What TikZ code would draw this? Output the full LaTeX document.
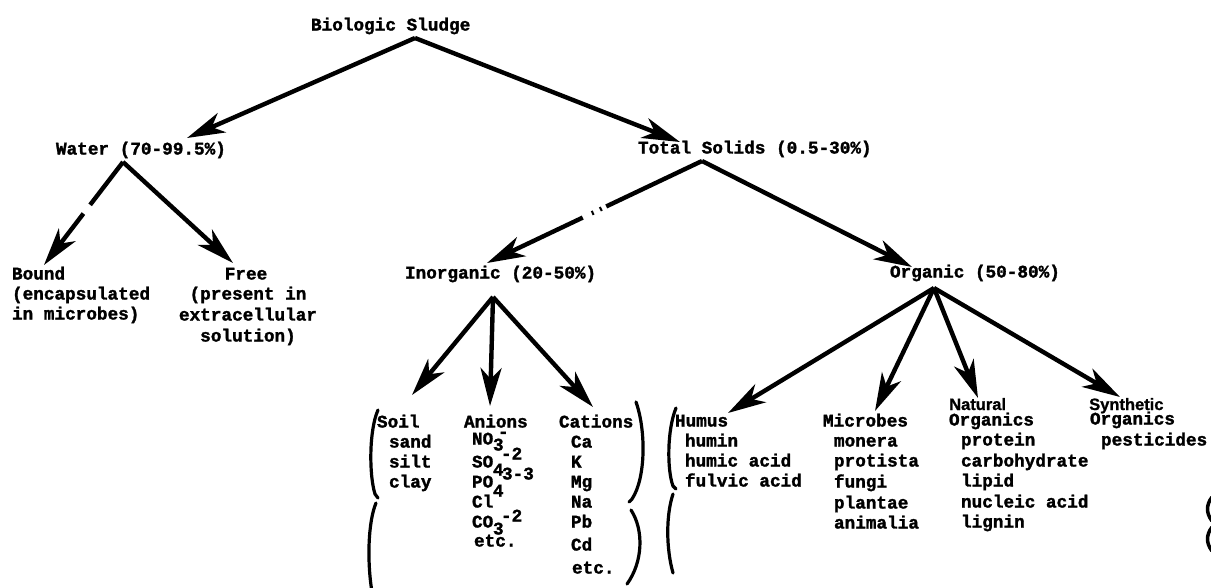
\documentclass[tikz,border=0pt]{standalone}
\usepackage{fontspec}
\setmainfont{Liberation Mono}[BoldFeatures={FakeBold=1.6}]
\newfontfamily\capsans{Liberation Sans}[BoldFeatures={FakeBold=1}]
\usetikzlibrary{arrows.meta}
\begin{document}
\begin{tikzpicture}[x=1pt,y=-1pt,
  lbl/.style={font=\fontsize{17.7}{20}\selectfont\bfseries, inner sep=0pt, outer sep=0pt,
              text height=12pt, text depth=3pt, anchor=west},
  caplbl/.style={font=\capsans\fontsize{16.5}{17}\selectfont\bfseries, inner sep=0pt,
              text height=12pt, text depth=2pt, anchor=west},
  link/.style={line width=4.4pt, -{Stealth[length=38pt,width=21pt,inset=11pt]}},
  brace/.style={line width=3.2pt, line cap=round}]
\useasboundingbox (0,0) rectangle (1211,587);

% ---- headings ----
\node[lbl] (sludge) at (311,26) {Biologic Sludge};
\node[lbl] (water) at (56,150) {Water (70-99.5\%)};
\node[lbl] (solids) at (638,149) {Total Solids (0.5-30\%)};
\node[lbl] (inorg) at (405,274) {Inorganic (20-50\%)};
\node[lbl] (org) at (890,273) {Organic (50-80\%)};

% ---- water ----
\node[lbl] (bound) at (12,275) {Bound};
\node[lbl] (bound2) at (12,295) {(encapsulated};
\node[lbl] (bound3) at (12,315) {in microbes)};
\node[lbl,anchor=center] (free) at (246,275) {Free};
\node[lbl,anchor=center] (free2) at (248,295) {(present in};
\node[lbl,anchor=center] (free3) at (248,316) {extracellular};
\node[lbl,anchor=center] (free4) at (248,337) {solution)};

% ---- inorganic ----
\node[lbl] (soil) at (377,423) {Soil};
\node[lbl] (sand) at (389,443) {sand};
\node[lbl] (silt) at (389,463) {silt};
\node[lbl] (clay) at (389,483) {clay};

\node[lbl] (anions) at (464,423) {Anions};
\node[lbl] (no) at (472,440) {NO};
\node[lbl] (nosub) at (493,446) {3};
\node[lbl] (nosup) at (498,433) {-};
\node[lbl] (socharge) at (501,455) {-2};
\node[lbl] (so) at (472,463) {SO};
\node[lbl] (sosub) at (493,471) {4};
\node[lbl] (pocharge) at (502,475) {3-3};
\node[lbl] (po) at (472,483) {PO};
\node[lbl] (posub) at (493,492) {4};
\node[lbl] (cl) at (472,503) {Cl};
\node[lbl] (co) at (472,523) {CO};
\node[lbl] (cosub) at (493,530) {3};
\node[lbl] (cocharge) at (501,517) {-2};
\node[lbl] (anetc) at (474,542) {etc.};

\node[lbl] (cations) at (559,423) {Cations};
\node[lbl] (ca) at (571,443) {Ca};
\node[lbl] (k) at (571,463) {K};
\node[lbl] (mg) at (571,483) {Mg};
\node[lbl] (na) at (571,503) {Na};
\node[lbl] (pb) at (571,523) {Pb};
\node[lbl] (cd) at (571,546) {Cd};
\node[lbl] (catetc) at (572,569) {etc.};

% ---- organic ----
\node[lbl] (humus) at (675,422) {Humus};
\node[lbl] (humin) at (685,442) {humin};
\node[lbl] (humic) at (685,462) {humic acid};
\node[lbl] (fulvic) at (685,482) {fulvic acid};

\node[lbl] (microbes) at (823,422) {Microbes};
\node[lbl] (monera) at (834,442) {monera};
\node[lbl] (protista) at (834,462) {protista};
\node[lbl] (fungi) at (834,483) {fungi};
\node[lbl] (plantae) at (834,504) {plantae};
\node[lbl] (animalia) at (834,524) {animalia};

\node[caplbl] (natural) at (949,405) {Natural};
\node[lbl] (natorg) at (949,421) {Organics};
\node[lbl] (protein) at (961,441) {protein};
\node[lbl] (carb) at (961,462) {carbohydrate};
\node[lbl] (lipid) at (961,482) {lipid};
\node[lbl] (nucleic) at (961,503) {nucleic acid};
\node[lbl] (lignin) at (961,523) {lignin};

\node[caplbl] (synthetic) at (1089,405) {Synthetic};
\node[lbl] (synorg) at (1090,420) {Organics};
\node[lbl] (pesticides) at (1101,441) {pesticides};

% ---- fork points and arrow ends ----
\coordinate (sludgeFork) at (415,38);
\coordinate (waterTip) at (187,138);
\coordinate (solidsTip) at (680,142);
\coordinate (waterFork) at (123,162);
\coordinate (boundTip) at (44,265);
\coordinate (freeTip) at (233,263);
\coordinate (solidsFork) at (702,161);
\coordinate (inorgTip) at (487,263);
\coordinate (orgTip) at (912,267);
\coordinate (inorgFork) at (493,297);
\coordinate (soilTip) at (412,395);
\coordinate (anionTip) at (490,406);
\coordinate (cationTip) at (593,407);
\coordinate (orgFork) at (934,288);
\coordinate (humusTip) at (728,413);
\coordinate (microbesTip) at (875,411);
\coordinate (naturalTip) at (978,398);
\coordinate (syntheticTip) at (1120,397);

% ---- connectors ----
\draw[link] (sludgeFork) -- (waterTip);
\draw[link] (sludgeFork) -- (solidsTip);
\draw[link, dash pattern=on 54pt off 11pt on 400pt] (waterFork) -- (boundTip);
\draw[link] (waterFork) -- (freeTip);
\draw[link, dash pattern=on 106pt off 5pt on 2pt off 7pt on 2pt off 10pt on 400pt] (solidsFork) -- (inorgTip);
\draw[link] (solidsFork) -- (orgTip);
\draw[link] (inorgFork) -- (soilTip);
\draw[link] (inorgFork) -- (anionTip);
\draw[link] (inorgFork) -- (cationTip);
\draw[link] (orgFork) -- (humusTip);
\draw[link] (orgFork) -- (microbesTip);
\draw[link] (orgFork) -- (naturalTip);
\draw[link] (orgFork) -- (syntheticTip);

% ---- hand-drawn braces ----
\draw[brace] (378,410) .. controls (369,430) and (369,475) .. (375,494) -- (378,498);
\draw[brace] (376,503) .. controls (368,522) and (367,562) .. (372,592);
\draw[brace] (636,402) .. controls (646,430) and (646,478) .. (632,499) -- (629,502);
\draw[brace] (631,510) .. controls (644,530) and (643,562) .. (627,584);
\draw[brace] (676,408) .. controls (667,430) and (667,470) .. (673,486) -- (676,489);
\draw[brace] (673,494) .. controls (666,515) and (666,548) .. (673,573);
\draw[line width=3.5pt] (1212,497) .. controls (1206,505) and (1206,513) .. (1212,521);
\draw[line width=3.5pt] (1212,527) .. controls (1206,535) and (1206,543) .. (1212,551);
\end{tikzpicture}
\end{document}
